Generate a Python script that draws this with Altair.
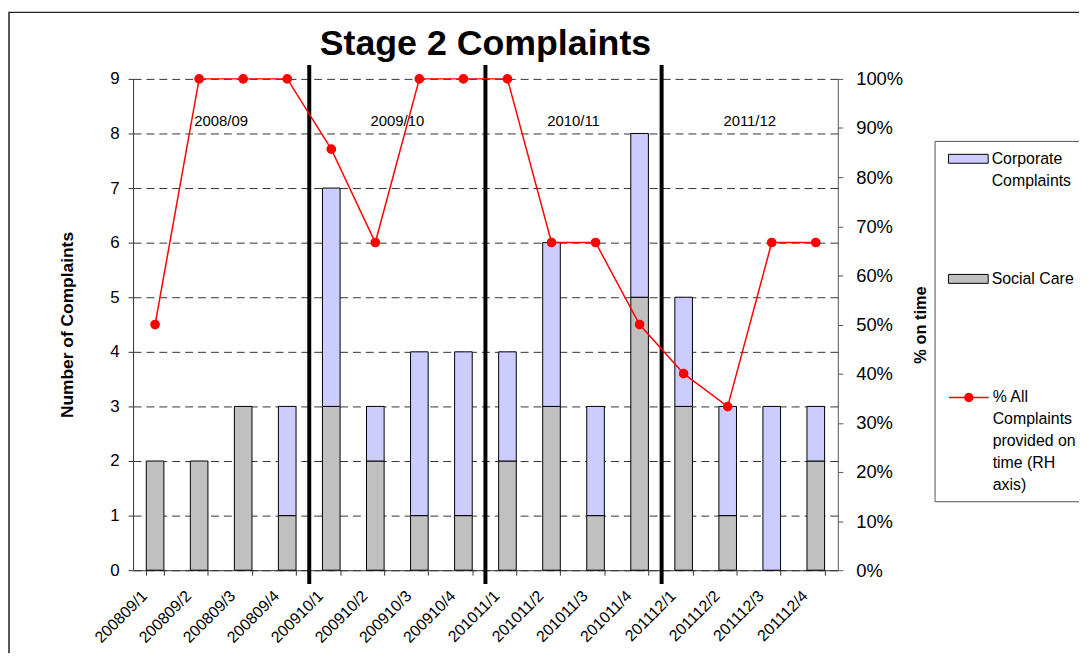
import altair as alt
import pandas as pd

# ---------------- data ----------------
quarters = ["200809/1", "200809/2", "200809/3", "200809/4",
            "200910/1", "200910/2", "200910/3", "200910/4",
            "201011/1", "201011/2", "201011/3", "201011/4",
            "201112/1", "201112/2", "201112/3", "201112/4"]
social_care = [2, 2, 3, 1, 3, 2, 1, 1, 2, 3, 1, 5, 3, 1, 0, 2]
corporate = [0, 0, 0, 2, 4, 1, 3, 3, 2, 3, 2, 3, 2, 2, 3, 1]
pct_on_time = [0.50, 1.00, 1.00, 1.00, 0.857, 0.667, 1.00, 1.00,
               1.00, 0.667, 0.667, 0.50, 0.40, 0.333, 0.667, 0.667]
year_labels = ["2008/09", "2009/10", "2010/11", "2011/12"]
year_label_quarters = ["200809/3", "200910/3", "201011/3", "201112/3"]
boundary_quarters = ["200910/1", "201011/1", "201112/1"]
series_names = ["Corporate Complaints", "Social Care"]
line_name = "% All Complaints provided on time (RH axis)"

# ---------------- tables ----------------
bar_df = pd.DataFrame({
    "quarter": quarters * 2,
    "series": ["Social Care"] * len(quarters) + ["Corporate Complaints"] * len(quarters),
    "count": social_care + corporate,
    "stack_order": [0] * len(quarters) + [1] * len(quarters),
})
line_df = pd.DataFrame({"quarter": quarters, "pct": pct_on_time,
                        "series": [line_name] * len(quarters)})
bound_df = pd.DataFrame({"quarter": boundary_quarters})
year_df = pd.DataFrame({"quarter": year_label_quarters, "year": year_labels})
one_df = pd.DataFrame({"a": [0]})

# ---------------- layout ----------------
FONT = "Liberation Sans"
W, H = 710, 495
PAD_INNER = 0.6
STEP = W / len(quarters)
HALF_GAP = STEP * PAD_INNER / 2

x_scale = alt.Scale(domain=quarters, paddingInner=PAD_INNER, paddingOuter=PAD_INNER / 2)

x_axis = alt.Axis(tickBand="extent", labelAngle=-45, labelAlign="right",
                  labelBaseline="middle", labelFontSize=16, labelFont=FONT,
                  labelColor="black", labelPadding=18, labelOffset=-11, tickSize=5,
                  tickColor="#333333", domainColor="#333333", grid=False,
                  title=None)

frame = alt.Chart(one_df).mark_rect(fill="white", fillOpacity=0, stroke="#222222",
                                    strokeWidth=1.5).encode(
    x=alt.value(-125), y=alt.value(-67), x2=alt.value(W + 400), y2=alt.value(H + 300))

legend_box = alt.Chart(one_df).mark_rect(fill="white", fillOpacity=0, stroke="#555555",
                                         strokeWidth=1).encode(
    x=alt.value(808), y=alt.value(63), x2=alt.value(W + 400), y2=alt.value(426))

bars = alt.Chart(bar_df).transform_filter("datum.count > 0").mark_bar(
    stroke="black", strokeWidth=1).encode(
    x=alt.X("quarter:N", scale=x_scale, sort=quarters, axis=x_axis),
    y=alt.Y("count:Q", stack="zero", scale=alt.Scale(domain=[0, 9], nice=False),
            axis=alt.Axis(values=list(range(10)), title="Number of Complaints",
                          titleFont=FONT, titleFontSize=17.5, titleFontWeight="bold",
                          titleColor="black", titleX=-66, titleY=H / 2,
                          titleAngle=270, titleBaseline="middle", titleAlign="center",
                          labelFont=FONT, labelFontSize=17, labelColor="black",
                          labelPadding=9, tickSize=5, tickColor="#333333",
                          domainColor="#333333", grid=True, gridDash=[8, 5],
                          gridColor="#333333", gridWidth=1)),
    fill=alt.Fill("series:N",
                  scale=alt.Scale(domain=series_names, range=["#CCCCFF", "#C0C0C0"]),
                  legend=alt.Legend(
                      title=None, orient="none", legendX=821, legendY=60,
                      direction="vertical", padding=0,
                      symbolType="M-1,-0.225H1V0.225H-1Z", symbolSize=1600,
                      symbolStrokeColor="black", symbolStrokeWidth=1,
                      labelFont=FONT, labelFontSize=16, labelColor="black",
                      labelLimit=400, labelOffset=3,
                      rowPadding=70,
                      labelExpr="datum.label == 'Corporate Complaints' ? ['Corporate', 'Complaints'] : datum.label")),
    order=alt.Order("stack_order:Q"),
)

rules = alt.Chart(bound_df).mark_rule(strokeWidth=4, color="black",
                                      xOffset=-HALF_GAP).encode(
    x=alt.X("quarter:N", scale=x_scale, sort=quarters, bandPosition=0),
    y=alt.value(-14), y2=alt.value(H + 14))

years = alt.Chart(year_df).mark_text(font=FONT, fontSize=15, color="black",
                                     align="center", baseline="middle",
                                     xOffset=-HALF_GAP).encode(
    x=alt.X("quarter:N", scale=x_scale, sort=quarters, bandPosition=0),
    y=alt.value(42), text="year:N")

line = alt.Chart(line_df).mark_line(
    strokeWidth=1.5,
    point=alt.OverlayMarkDef(filled=True, size=60, fill="#FF0000")).encode(
    x=alt.X("quarter:N", scale=x_scale, sort=quarters),
    y=alt.Y("pct:Q", scale=alt.Scale(domain=[0, 1], nice=False),
            axis=alt.Axis(orient="right", format=".0%",
                          values=[i / 10 for i in range(11)], title="% on time",
                          titleFont=FONT, titleFontSize=16.5, titleFontWeight="bold",
                          titleColor="black", titleX=83, titleY=H / 2,
                          titleAngle=270, titleBaseline="middle", titleAlign="center",
                          labelFont=FONT, labelFontSize=18.5, labelColor="black",
                          labelPadding=13, tickSize=5, tickColor="#555555",
                          domainColor="#555555", grid=False)),
    stroke=alt.Stroke("series:N", scale=alt.Scale(domain=[line_name], range=["#FF0000"]),
                      legend=alt.Legend(
                          title=None, orient="none", legendX=821, legendY=300,
                          padding=0,
                          symbolType="M-1,0H1M0.2,0A0.2,0.2 0 1,1 -0.2,0A0.2,0.2 0 1,1 0.2,0Z",
                          symbolSize=1600, symbolFillColor="#FF0000",
                          symbolStrokeWidth=1.5,
                          labelFont=FONT, labelFontSize=16, labelColor="black",
                          labelLimit=400, labelOffset=3,
                          labelExpr="['% All', 'Complaints', 'provided on', 'time (RH', 'axis)']")),
)

chart = alt.layer(frame, legend_box, bars, rules, years, line).resolve_scale(
    y="independent"
).properties(
    width=W, height=H,
    autosize=alt.AutoSizeParams(type="none"),
    padding={"left": 126, "top": 69, "right": 243, "bottom": 81},
    title=alt.Title("Stage 2 Complaints", font=FONT, fontSize=36, fontWeight="bold",
                    color="black", anchor="middle", frame="group",
                    baseline="alphabetic", offset=-80),
    config=alt.Config(view=alt.ViewConfig(stroke="transparent"),
                      style={"guide-label": {"lineHeight": 22}}),
)

chart.save("out.html", embed_options={"renderer": "svg", "actions": False})
